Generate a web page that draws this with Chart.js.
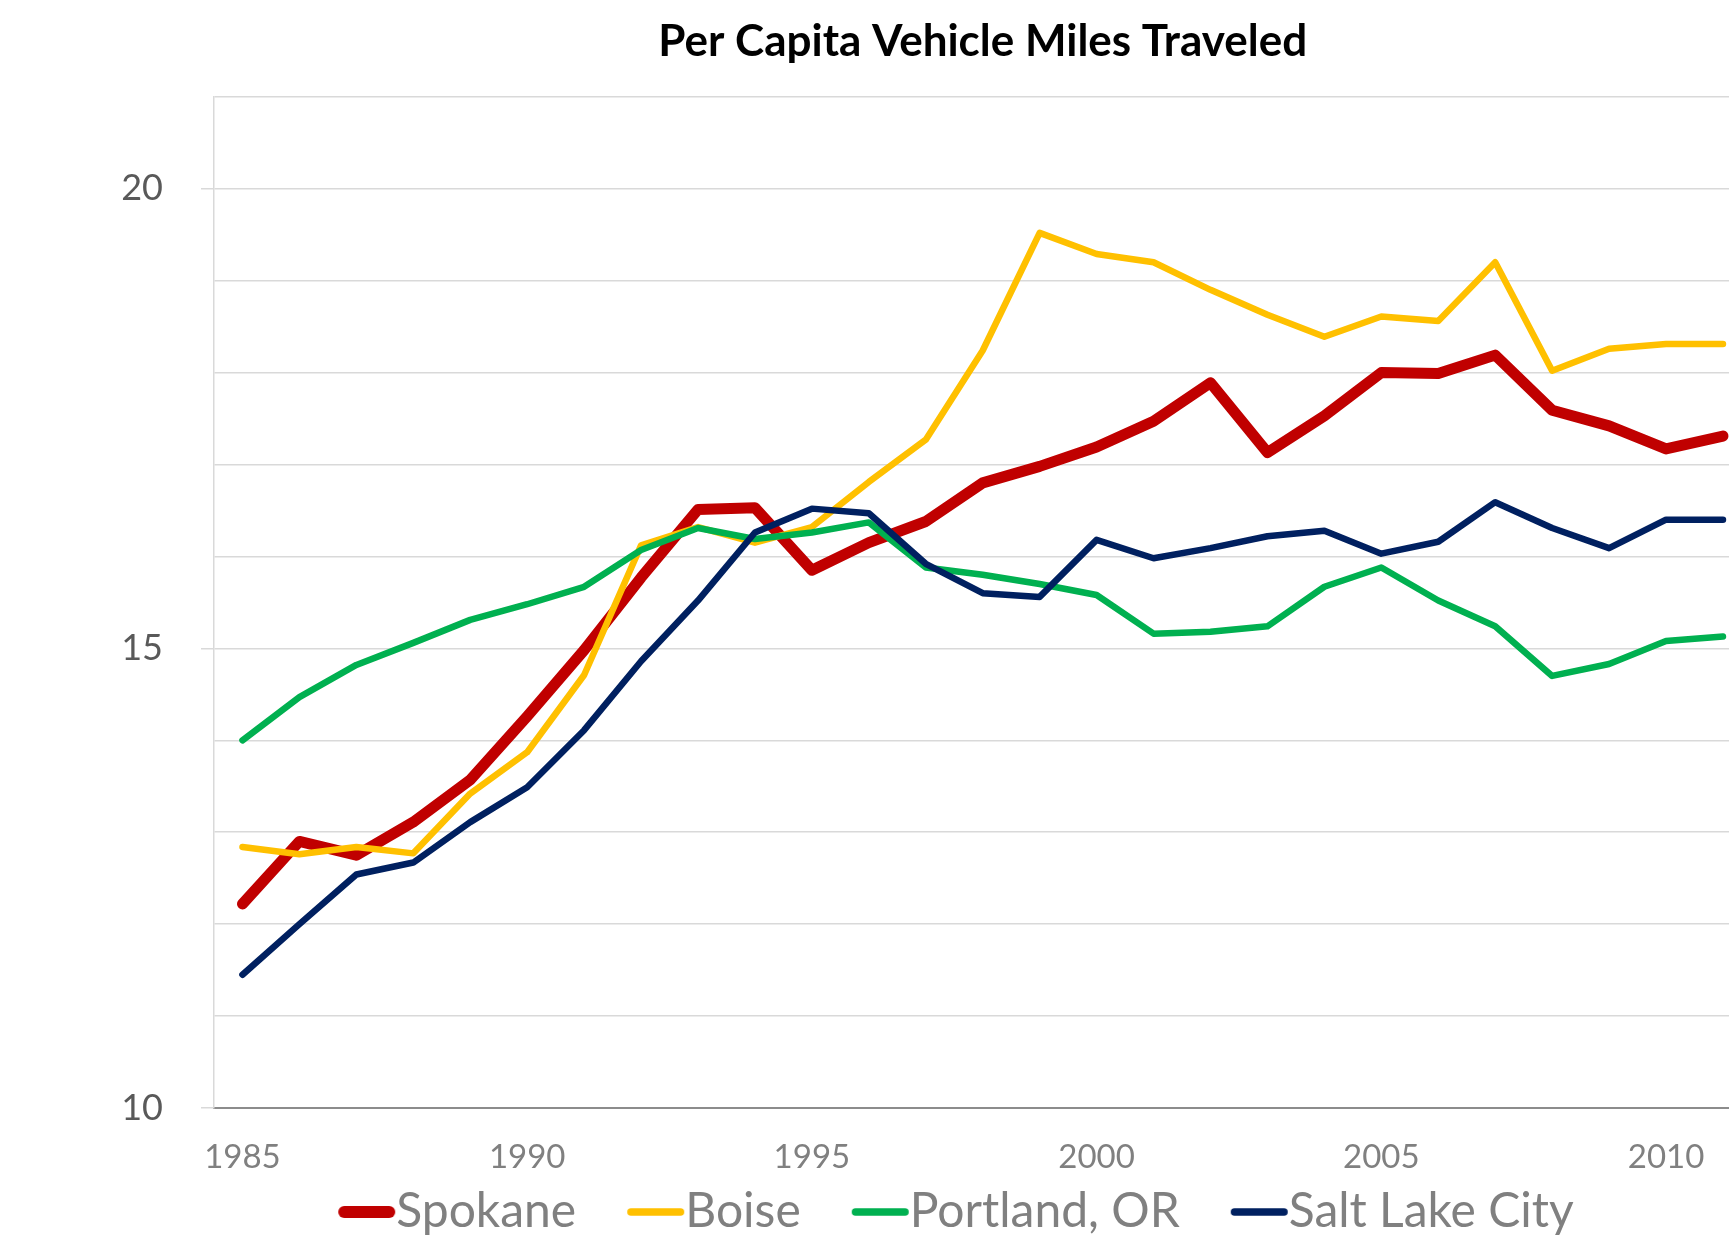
<!DOCTYPE html>
<html>
<head>
<meta charset="utf-8">
<script src="https://cdn.jsdelivr.net/npm/chart.js@4.4.1/dist/chart.umd.min.js"></script>
<style>
html, body { margin: 0; padding: 0; background: #fff; overflow: hidden; }
#wrap { width: 1753px; height: 1246px; }
</style>
</head>
<body>
<div id="wrap"><canvas id="vmtChart" width="1753" height="1246"></canvas></div>
<script>
var years = [1985, 1986, 1987, 1988, 1989, 1990, 1991, 1992, 1993, 1994, 1995, 1996, 1997, 1998,
             1999, 2000, 2001, 2002, 2003, 2004, 2005, 2006, 2007, 2008, 2009, 2010, 2011];

var spokane = [12.22, 12.90, 12.75, 13.11, 13.57, 14.26, 14.98, 15.77, 16.51, 16.53, 15.85, 16.15, 16.38, 16.80,
               16.98, 17.19, 17.47, 17.89, 17.13, 17.53, 18.00, 17.99, 18.19, 17.59, 17.42, 17.17, 17.31];
var boise = [12.84, 12.76, 12.84, 12.77, 13.42, 13.87, 14.71, 16.12, 16.32, 16.15, 16.32, 16.81, 17.27, 18.24,
             19.52, 19.29, 19.20, 18.90, 18.63, 18.39, 18.61, 18.56, 19.20, 18.02, 18.26, 18.31, 18.31];
var portland = [14.00, 14.47, 14.82, 15.06, 15.31, 15.48, 15.67, 16.07, 16.31, 16.19, 16.26, 16.37, 15.88, 15.80,
                15.70, 15.58, 15.16, 15.18, 15.24, 15.67, 15.88, 15.52, 15.24, 14.70, 14.83, 15.08, 15.13];
var saltLake = [11.45, 12.00, 12.54, 12.67, 13.11, 13.49, 14.11, 14.86, 15.52, 16.26, 16.52, 16.47, 15.92, 15.60,
                15.56, 16.18, 15.98, 16.09, 16.22, 16.28, 16.03, 16.16, 16.59, 16.31, 16.09, 16.40, 16.40];

var yMin = 10;
var yMax = 21;

var fontFamily = "Lato, 'Open Sans', sans-serif";
var legendFontSize = 48;
var legendBoxWidth = 75;

// legend swatch: a short round-capped line that ends right where the label text starts
function makeSwatch(color, thickness)
{
    var lineLen = 58;
    var w = legendBoxWidth + legendFontSize;
    var c = document.createElement('canvas');
    c.width = w;
    c.height = 20;
    var ctx = c.getContext('2d');
    ctx.strokeStyle = color;
    ctx.lineWidth = thickness;
    ctx.lineCap = 'round';
    ctx.beginPath();
    ctx.moveTo(w - lineLen + thickness / 2, 10);
    ctx.lineTo(w - thickness / 2 - 1, 10);
    ctx.stroke();
    return c;
}

function makeDataset(label, data, color, width, swatchWidth)
{
    return {
        label: label,
        data: data,
        borderColor: color,
        backgroundColor: color,
        borderWidth: width,
        borderCapStyle: 'round',
        borderJoinStyle: 'round',
        pointRadius: 0,
        pointHoverRadius: 0,
        tension: 0,
        fill: false,
        swatch: makeSwatch(color, swatchWidth)
    };
}

var datasets = [
    makeDataset('Spokane', spokane, '#C00000', 11, 12),
    makeDataset('Boise', boise, '#FFC000', 6.5, 7.5),
    makeDataset('Portland, OR', portland, '#00B050', 6.5, 7.5),
    makeDataset('Salt Lake City', saltLake, '#002060', 6.5, 7.5)
];
// later series sit on top, like the original
for (var i = 0; i < datasets.length; i++)
{
    datasets[i].order = datasets.length - 1 - i;
}

var ctx = document.getElementById('vmtChart').getContext('2d');
var vmtChart = new Chart(ctx, {
    type: 'line',
    data: {
        labels: years,
        datasets: datasets
    },
    options: {
        responsive: false,
        animation: false,
        devicePixelRatio: 1,
        layout: {
            padding: { left: 118, right: 0, top: 0, bottom: 0 }
        },
        plugins: {
            title: {
                display: true,
                text: 'Per Capita Vehicle Miles Traveled',
                color: '#000000',
                fullSize: false,
                font: { family: fontFamily, size: 44, weight: 'bold' },
                padding: { top: 15, bottom: 29 }
            },
            legend: {
                display: true,
                position: 'bottom',
                fullSize: true,
                labels: {
                    color: '#808080',
                    font: { family: fontFamily, size: legendFontSize },
                    usePointStyle: true,
                    pointStyleWidth: legendBoxWidth,
                    boxHeight: 20,
                    padding: 10,
                    sort: function(a, b) { return a.datasetIndex - b.datasetIndex; },
                    generateLabels: function(chart)
                    {
                        var items = Chart.defaults.plugins.legend.labels.generateLabels(chart);
                        items.forEach(function(item) {
                            item.pointStyle = chart.data.datasets[item.datasetIndex].swatch;
                        });
                        return items;
                    }
                }
            },
            tooltip: { enabled: false }
        },
        scales: {
            x: {
                type: 'category',
                offset: true,
                afterFit: function(scale) { scale.height = 70; },
                grid: { display: false, drawTicks: false },
                border: { display: true, color: '#8C8C8C', width: 2 },
                ticks: {
                    autoSkip: false,
                    maxRotation: 0,
                    color: '#808080',
                    padding: 30,
                    font: { family: fontFamily, size: 33 },
                    callback: function(value, index) {
                        var yr = years[index];
                        return yr % 5 === 0 ? String(yr) : '';
                    }
                }
            },
            y: {
                min: yMin,
                max: yMax,
                afterFit: function(scale) { scale.width = 96; },
                grid: {
                    color: '#D9D9D9',
                    lineWidth: 1.5,
                    tickLength: 13,
                    tickColor: function(c) { return c.tick && c.tick.value % 5 === 0 ? '#D9D9D9' : 'rgba(0,0,0,0)'; }
                },
                border: { display: true, color: '#D9D9D9', width: 1.5 },
                ticks: {
                    stepSize: 1,
                    color: '#595959',
                    padding: 38,
                    font: { family: fontFamily, size: 36 },
                    callback: function(value) { return value % 5 === 0 ? String(value) : ''; }
                }
            }
        }
    }
});
</script>
</body>
</html>
